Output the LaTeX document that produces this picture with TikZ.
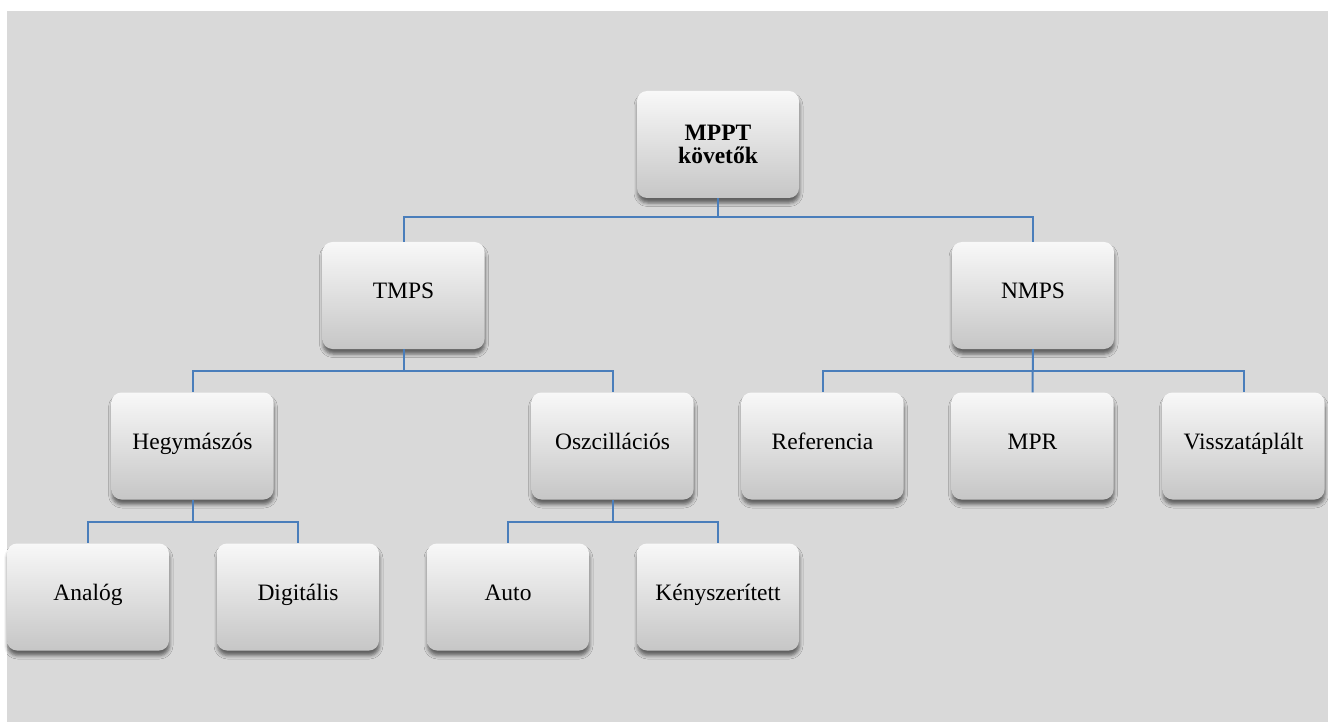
\documentclass[tikz,border=0pt]{standalone}
\usepackage{fontspec}
\setmainfont{Liberation Serif}
\usetikzlibrary{shadows.blur}
\definecolor{bggrey}{HTML}{D9D9D9}
\definecolor{conncol}{HTML}{4A7EBB}
\definecolor{boxtop}{HTML}{F8F8F8}
\definecolor{boxmid}{HTML}{EEEEEE}
\definecolor{boxbot}{HTML}{C6C6C6}
\tikzset{
  basebox/.style={rounded corners=10pt, minimum width=162pt, minimum height=107pt,
    inner sep=0pt, top color=boxtop, middle color=boxmid, bottom color=boxbot,
    blur shadow={shadow xshift=0.5pt, shadow yshift=-5pt, shadow blur radius=3.5pt, shadow opacity=55},
    align=center},
  box/.style={basebox, font=\fontsize{23.5}{24}\selectfont, text height=0.66em, text depth=0pt},
  topbox/.style={basebox, font=\fontsize{23.5}{23.5}\selectfont\bfseries},
  conn/.style={draw=conncol, line width=2pt}
}
\begin{document}
\begin{tikzpicture}[x=1pt,y=1pt]
\useasboundingbox (0,0) rectangle (1328,-722);
\fill[bggrey] (7,-11) rectangle (1328,-722);
% bus coordinates
\coordinate (bA) at (0,-217);
\coordinate (bB) at (0,-371);
\coordinate (bC) at (0,-522);
\node[topbox] (mppt) at (718,-144.5) {MPPT\\követők};
\node[box] (tmps) at (403.5,-295.5) {TMPS};
\node[box] (nmps) at (1033,-295.5) {NMPS};
\node[box] (hegy) at (192.5,-446) {Hegymászós};
\node[box] (osz) at (612.5,-446) {Oszcillációs};
\node[box] (ref) at (822.5,-446) {Referencia};
\node[box] (mpr) at (1032.5,-446) {MPR};
\node[box] (vis) at (1243.5,-446) {Visszatáplált};
\node[box] (ana) at (88,-597) {Analóg};
\node[box] (dig) at (298,-597) {Digitális};
\node[box] (auto) at (508,-597) {Auto};
\node[box] (keny) at (718,-597) {Kényszerített};
\draw[conn] (mppt.south) -- (mppt.south |- bA) -| (tmps.north);
\draw[conn] (mppt.south |- bA) -| (nmps.north);
\draw[conn] (tmps.south) -- (tmps.south |- bB) -| (hegy.north);
\draw[conn] (tmps.south |- bB) -| (osz.north);
\draw[conn] (nmps.south) -- (mpr.north);
\draw[conn] (nmps.south |- bB) -| (ref.north);
\draw[conn] (nmps.south |- bB) -| (vis.north);
\draw[conn] (hegy.south) -- (hegy.south |- bC) -| (ana.north);
\draw[conn] (hegy.south |- bC) -| (dig.north);
\draw[conn] (osz.south) -- (osz.south |- bC) -| (auto.north);
\draw[conn] (osz.south |- bC) -| (keny.north);
\end{tikzpicture}
\end{document}
